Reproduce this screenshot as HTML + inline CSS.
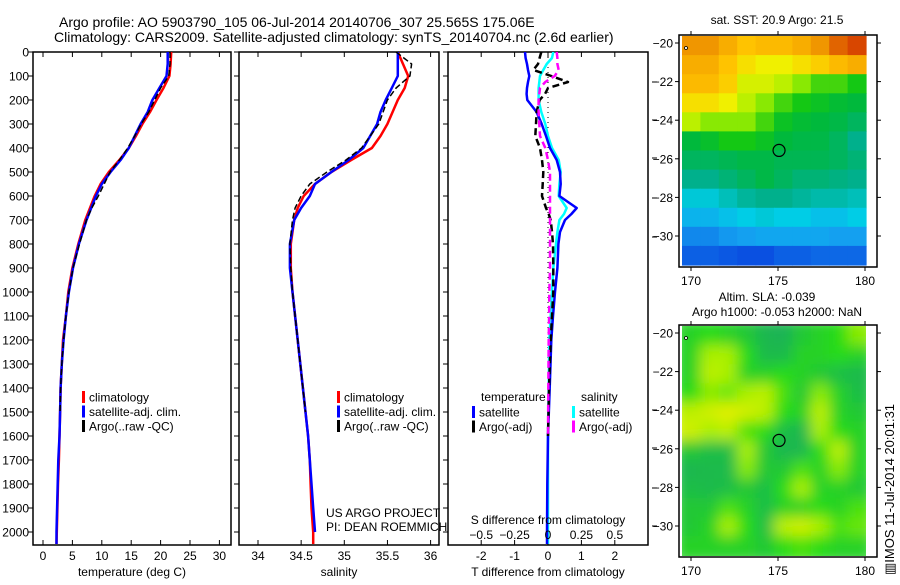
<!DOCTYPE html>
<html><head><meta charset="utf-8"><style>
body{margin:0;background:#fff}
svg text{font-family:"Liberation Sans",sans-serif;fill:#000}
</style></head><body>
<svg id="fig" width="900" height="580" viewBox="0 0 900 580" xmlns="http://www.w3.org/2000/svg">
<defs>
<clipPath id="c1"><rect x="33" y="52" width="198" height="493"/></clipPath>
<clipPath id="c2"><rect x="239" y="52" width="200" height="493"/></clipPath>
<clipPath id="c3"><rect x="448" y="52" width="200" height="493"/></clipPath>
<clipPath id="cm2"><rect x="682" y="326" width="184" height="230"/></clipPath>
<filter id="blur" x="-10%" y="-10%" width="120%" height="120%"><feGaussianBlur stdDeviation="7"/></filter>
</defs>
<text x="59" y="27" font-size="14">Argo profile: AO 5903790_105 06-Jul-2014 20140706_307 25.565S 175.06E</text>
<text x="54" y="42" font-size="14">Climatology: CARS2009. Satellite-adjusted climatology: synTS_20140704.nc (2.6d earlier)</text>
<g id="g1"></g>
<g id="g2"></g>
<g id="g3"></g>
<g id="m1"></g>
<g id="m2"></g>
<text transform="translate(894,575) rotate(-90)" font-size="13">▥IMOS 11-Jul-2014 20:01:31</text>
</svg>
<script>
const depths=[0,50,100,150,200,250,300,350,400,450,500,550,600,650,700,800,900,1000,1100,1200,1300,1400,1500,1600,1700,1800,1900,2000,2050];
const tempClim=[21.8,21.7,21.5,20.5,19.3,18.2,16.9,15.8,14.6,13.0,11.2,9.8,8.8,8.0,7.2,6.0,5.0,4.3,3.9,3.4,3.2,3.0,2.9,2.8,2.7,2.55,2.45,2.35,2.3];
const tempSat=[21.2,21.2,21.0,19.8,18.6,17.8,16.6,15.6,14.6,13.2,11.5,10.0,9.0,8.2,7.4,6.1,5.1,4.4,3.9,3.5,3.2,3.0,2.9,2.8,2.6,2.5,2.4,2.3,2.3];
const tempArgo=[21.6,21.6,21.4,20.0,19.0,18.0,16.7,15.6,14.4,13.0,11.4,10.4,9.4,8.3,7.4,6.2,5.1,4.4,3.9,3.5,3.2,3.0,2.9,null,null,null,null,null,null];
const salClim=[35.62,35.68,35.74,35.7,35.62,35.56,35.5,35.42,35.32,35.08,34.85,34.66,34.53,34.46,34.42,34.38,34.38,34.4,34.43,34.46,34.49,34.52,34.55,34.58,34.6,34.61,34.62,34.64,34.64];
const salSat=[35.62,35.62,35.62,35.55,35.48,35.42,35.38,35.3,35.22,35.05,34.85,34.66,34.6,34.5,34.42,34.37,34.37,34.4,34.43,34.46,34.49,34.52,34.55,34.58,34.6,34.62,34.64,34.66,null];
const salArgo=[35.6,35.78,35.76,35.6,35.5,35.45,35.4,35.3,35.2,35.02,34.8,34.6,34.5,34.43,34.4,34.37,34.38,34.4,34.43,34.46,34.49,34.52,34.55,null,null,null,null,null,null];
const diffDepths=[0,25,50,75,100,125,150,175,200,250,300,350,400,450,500,550,600,625,650,675,700,750,800,900,1000,1100,1200,1400,1600,1800,2000,2050];
const tDiffSat=[-0.69,-0.67,-0.63,-0.6,-0.56,-0.6,-0.63,-0.64,-0.62,-0.34,-0.19,-0.06,0.06,0.26,0.36,0.38,0.34,0.6,0.86,0.7,0.51,0.36,0.31,0.28,0.21,0.15,0.1,0.05,0.0,-0.02,-0.03,-0.03];
const tDiffArgo=[-0.2,-0.25,-0.3,-0.44,0.1,0.6,0.0,-0.09,-0.25,-0.34,-0.36,-0.38,-0.24,-0.18,-0.14,-0.16,-0.18,-0.12,-0.06,0.02,0.08,0.12,0.15,0.16,0.16,0.12,0.08,0.03,0.0,null,null,null];
const sDiffSat=[0.04,0.03,-0.01,-0.035,-0.06,-0.065,-0.07,-0.07,-0.07,-0.05,-0.02,0.0,0.03,0.08,0.095,0.085,0.08,0.11,0.14,0.12,0.085,0.07,0.06,0.04,0.03,0.02,0.01,0.005,0,0,0,0];
const sDiffArgo=[0.065,0.07,0.07,0.08,0.05,-0.02,-0.06,-0.065,-0.07,-0.07,-0.065,-0.06,-0.02,0.0,0.015,0.015,0.015,0.015,0.015,0.015,0.015,0.015,0.015,0.015,0.01,0.008,0.005,0.002,0.0,null,null,null];
const depthTicks=[0,100,200,300,400,500,600,700,800,900,1000,1100,1200,1300,1400,1500,1600,1700,1800,1900,2000];
const tempTicks=[0,5,10,15,20,25,30];
const salTicks=[34,34.5,35,35.5,36];
const tDiffTicks=[-2,-1,0,1,2];
const sDiffTicks=["-0.5","-0.25","0","0.25","0.5"];
const sstGrid=[
[0.8,0.8,0.75,0.7,0.72,0.72,0.75,0.8,0.85,0.88],
[0.75,0.75,0.7,0.65,0.62,0.62,0.65,0.68,0.72,0.75],
[0.72,0.72,0.68,0.6,0.6,0.58,0.55,0.52,0.52,0.5],
[0.65,0.65,0.62,0.58,0.55,0.52,0.5,0.48,0.46,0.45],
[0.58,0.55,0.55,0.55,0.52,0.48,0.46,0.45,0.44,0.42],
[0.45,0.47,0.5,0.5,0.48,0.45,0.44,0.44,0.42,0.38],
[0.42,0.42,0.43,0.44,0.44,0.43,0.43,0.43,0.42,0.4],
[0.38,0.38,0.4,0.42,0.44,0.42,0.4,0.4,0.39,0.38],
[0.33,0.33,0.35,0.37,0.38,0.38,0.37,0.36,0.36,0.35],
[0.28,0.28,0.3,0.32,0.33,0.32,0.32,0.3,0.3,0.32],
[0.22,0.22,0.24,0.25,0.26,0.26,0.26,0.26,0.25,0.25],
[0.17,0.17,0.16,0.15,0.15,0.17,0.17,0.18,0.18,0.18]];
const slaGrid=[
[0.5,0.55,0.5,0.45,0.3,0.25,0.45,0.5,0.55,0.7],
[0.5,0.75,0.75,0.55,0.35,0.35,0.5,0.5,0.55,0.5],
[0.5,0.8,0.75,0.5,0.5,0.55,0.5,0.45,0.4,0.35],
[0.55,0.7,0.65,0.75,0.8,0.6,0.45,0.7,0.5,0.4],
[0.8,0.85,0.9,0.85,0.8,0.55,0.5,0.8,0.5,0.45],
[0.85,0.75,0.8,0.6,0.55,0.4,0.3,0.75,0.55,0.5],
[0.45,0.4,0.4,0.75,0.45,0.3,0.3,0.55,0.8,0.5],
[0.3,0.35,0.35,0.7,0.45,0.45,0.6,0.5,0.7,0.5],
[0.4,0.35,0.4,0.45,0.4,0.55,0.75,0.5,0.5,0.45],
[0.45,0.45,0.6,0.5,0.4,0.5,0.5,0.55,0.5,0.6],
[0.45,0.5,0.75,0.55,0.4,0.8,0.85,0.75,0.6,0.65],
[0.5,0.5,0.5,0.5,0.45,0.55,0.6,0.55,0.5,0.5]];
const latTicks=[-20,-22,-24,-26,-28,-30];
const lonTicks=[170,175,180];

const NS='http://www.w3.org/2000/svg';
function mk(parent,tag,attrs,name,txt){const e=document.createElementNS(NS,tag);for(const k in attrs)e.setAttribute(k,attrs[k]);


if(txt!==undefined)e.textContent=txt;parent.appendChild(e);return e;}
const yD=d=>52+d*0.24;
function panel(g,x0,x1,clip,xs,ticks,labs,title,curves,depthLabels){
  mk(g,'rect',{x:x0,y:52,width:x1-x0,height:493,fill:'none',stroke:'#000','stroke-width':1.5},'panel-frame');
  depthTicks.forEach(d=>{const y=yD(d);
    mk(g,'line',{x1:x0-5,x2:x0,y1:y,y2:y,stroke:'#000'},'depth-tick');
    if(depthLabels)mk(g,'text',{x:x0-4,y:y+4.5,'font-size':12,'text-anchor':'end'},'depth-tick-label',String(d));});
  ticks.forEach((t,i)=>{const x=xs(t);
    mk(g,'line',{x1:x,x2:x,y1:545,y2:540,stroke:'#000'},'x-tick');
    mk(g,'line',{x1:x,x2:x,y1:52,y2:57,stroke:'#000'},'x-tick-top');
    mk(g,'text',{x:x,y:560,'font-size':12,'text-anchor':'middle'},'x-tick-label',labs[i]);});
  mk(g,'text',{x:(x0+x1)/2,y:576,'font-size':12,'text-anchor':'middle'},'x-axis-title',title);
  const cg=mk(g,'g',{'clip-path':'url(#'+clip+')'},'series-group');
  curves.forEach(c=>{let d='';let pen=false;
    c.v.forEach((v,i)=>{if(v===null){pen=false;return;}d+=(pen?'L':'M')+c.xs(v).toFixed(1)+','+yD(c.dep[i]).toFixed(1);pen=true;});
    const a={d:d,fill:'none',stroke:c.col,'stroke-width':c.w||2.5,'stroke-linejoin':'round'};if(c.dash)a['stroke-dasharray']=c.dash;
    mk(cg,'path',a,c.name);});
}
const xT=t=>43+t*5.88, xS=s=>258+(s-34)*86.3, xTd=t=>548+t*33.4, xSd=s=>548+s*133.6;
const g1=document.getElementById('g1'),g2=document.getElementById('g2'),g3=document.getElementById('g3');
panel(g1,33,231,'c1',xT,tempTicks,tempTicks.map(String),'temperature (deg C)',[
 {v:tempClim,dep:depths,xs:xT,col:'#f00',name:'temp-climatology-line'},
 {v:tempSat,dep:depths,xs:xT,col:'#00f',name:'temp-satellite-line'},
 {v:tempArgo,dep:depths,xs:xT,col:'#000',w:1.5,dash:'6,3',name:'temp-argo-line'}],true);
panel(g2,239,439,'c2',xS,salTicks,salTicks.map(String),'salinity',[
 {v:salClim,dep:depths,xs:xS,col:'#f00',name:'sal-climatology-line'},
 {v:salSat,dep:depths,xs:xS,col:'#00f',name:'sal-satellite-line'},
 {v:salArgo,dep:depths,xs:xS,col:'#000',w:1.5,dash:'6,3',name:'sal-argo-line'}],false);
mk(g3,'line',{x1:548,x2:548,y1:52,y2:545,stroke:'#000','stroke-dasharray':'1,4'},'zero-line');
panel(g3,448,648,'c3',xTd,tDiffTicks,tDiffTicks.map(String),'T difference from climatology',[
 {v:sDiffSat,dep:diffDepths,xs:xSd,col:'#0ff',name:'sal-diff-satellite-line'},
 {v:tDiffSat,dep:diffDepths,xs:xTd,col:'#00f',name:'temp-diff-satellite-line'},
 {v:tDiffArgo,dep:diffDepths,xs:xTd,col:'#000',dash:'7,4',name:'temp-diff-argo-line'},
 {v:sDiffArgo,dep:diffDepths,xs:xSd,col:'#f0f',dash:'7,4',name:'sal-diff-argo-line'}],false);
sDiffTicks.forEach(s=>{mk(g3,'text',{x:xSd(parseFloat(s)),y:539,'font-size':12,'text-anchor':'middle'},'s-tick-label',s.replace('-','−'));});
mk(g3,'text',{x:548,y:524,'font-size':12,'text-anchor':'middle'},'s-axis-title','S difference from climatology');
[82,120,158,198,237,410,448,488,526].forEach(y=>mk(g3,'line',{x1:652,x2:657,y1:y,y2:y,stroke:'#000'},'right-tick'));
function legend(g,x,y,items){items.forEach((it,i)=>{const yy=y+i*14.5;
  mk(g,'rect',{x:x,y:yy-6,width:3,height:12,fill:it[1]},'legend-swatch');
  mk(g,'text',{x:x+7,y:yy+4.5,'font-size':12},'legend-entry',it[0]);});}
legend(g1,82,397,[['climatology','#f00'],['satellite-adj. clim.','#00f'],['Argo(..raw -QC)','#000']]);
legend(g2,337,397,[['climatology','#f00'],['satellite-adj. clim.','#00f'],['Argo(..raw -QC)','#000']]);
mk(g3,'text',{x:481,y:401,'font-size':12},'legend-title-temperature','temperature');
mk(g3,'text',{x:581,y:401,'font-size':12},'legend-title-salinity','salinity');
legend(g3,472,412,[['satellite','#00f'],['Argo(-adj)','#000']]);
legend(g3,572,412,[['satellite','#0ff'],['Argo(-adj)','#f0f']]);
mk(g2,'text',{x:326,y:517,'font-size':12},'project-credit','US ARGO PROJECT');
mk(g2,'text',{x:326,y:531,'font-size':12},'pi-credit','PI: DEAN ROEMMICH');

function cmap(stops,v){for(let i=1;i<stops.length;i++){if(v<=stops[i][0]){const a=stops[i-1],b=stops[i],t=(v-a[0])/(b[0]-a[0]);
 const c=a[1].map((q,k)=>Math.round(q+(b[1][k]-q)*t));return 'rgb('+c.join(',')+')';}}const l=stops[stops.length-1][1];return 'rgb('+l.join(',')+')';}
const sstStops=[[0,[0,30,190]],[0.15,[10,80,225]],[0.25,[20,160,240]],[0.32,[0,205,230]],[0.38,[0,176,140]],[0.45,[0,185,60]],[0.5,[20,200,20]],[0.56,[160,240,0]],[0.62,[240,240,0]],[0.7,[255,195,0]],[0.8,[240,150,0]],[0.9,[210,50,0]]];
const slaStops=[[0,[20,160,110]],[0.4,[30,190,70]],[0.55,[40,220,20]],[0.75,[170,240,0]],[0.9,[225,240,0]]];
function map(g,top,grid,stops,titles,blur){
  const x0=682,x1=866,y0=top+1,y1=top+230;const lonX=l=>691+(l-170)*17.4, latY=l=>top+8+(Math.abs(l)-20)*19.3;
  const cg=mk(g,'g',blur?{'clip-path':'url(#cm2)'}:{},'map-cells');
  const inner=blur?mk(cg,'g',{filter:'url(#blur)'},'smoothed-cells'):cg;
  const nr=grid.length,nc=grid[0].length,cw=(x1-x0)/nc,ch=(y1-y0)/nr;
  grid.forEach((row,r)=>row.forEach((v,c)=>{
    const pad=blur?8:0;
    const xa=x0+c*cw-(c==0?pad:0),ya=y0+r*ch-(r==0?pad:0);
    mk(inner,'rect',{x:xa.toFixed(1),y:ya.toFixed(1),width:(cw+0.6+(c==0||c==nc-1?pad:0)).toFixed(1),height:(ch+0.6+(r==0||r==nr-1?pad:0)).toFixed(1),fill:cmap(stops,v)},'map-cell');}));
  mk(g,'rect',{x:679,y:top,width:198,height:232,fill:'none',stroke:'#000','stroke-width':1.5},'map-frame');
  latTicks.forEach(l=>{const y=latY(l);mk(g,'line',{x1:675,x2:679,y1:y,y2:y,stroke:'#000'},'lat-tick');
    mk(g,'line',{x1:877,x2:881,y1:y,y2:y,stroke:'#000'},'lat-tick-right');
    mk(g,'text',{x:673,y:y+4.5,'font-size':12,'text-anchor':'end'},'lat-tick-label',String(l).replace('-','−'));});
  lonTicks.forEach(l=>{const x=lonX(l);mk(g,'line',{x1:x,x2:x,y1:top,y2:top-4,stroke:'#000'},'lon-tick');
    mk(g,'line',{x1:x,x2:x,y1:top+232,y2:top+236,stroke:'#000'},'lon-tick-bottom');
    mk(g,'text',{x:x,y:top+250,'font-size':12,'text-anchor':'middle'},'lon-tick-label',String(l));});
  mk(g,'circle',{cx:lonX(175.06),cy:latY(-25.565),r:6,fill:'none',stroke:'#000','stroke-width':1.2},'argo-location-marker');
  mk(g,'circle',{cx:686,cy:top+13,r:1.5,fill:'#fff',stroke:'#000','stroke-width':0.8},'corner-marker');
  titles.forEach(t=>mk(g,'text',{x:t[1],y:t[2],'font-size':12,'text-anchor':'middle'},t[3],t[0]));
}
map(document.getElementById('m1'),35,sstGrid,sstStops,[['sat. SST: 20.9 Argo: 21.5',777,24,'sst-map-title']],false);
map(document.getElementById('m2'),325,slaGrid,slaStops,[['Altim. SLA: -0.039',767,301,'sla-map-title'],['Argo h1000: -0.053 h2000: NaN',777,316,'argo-height-title']],true);
</script>
</body></html>
